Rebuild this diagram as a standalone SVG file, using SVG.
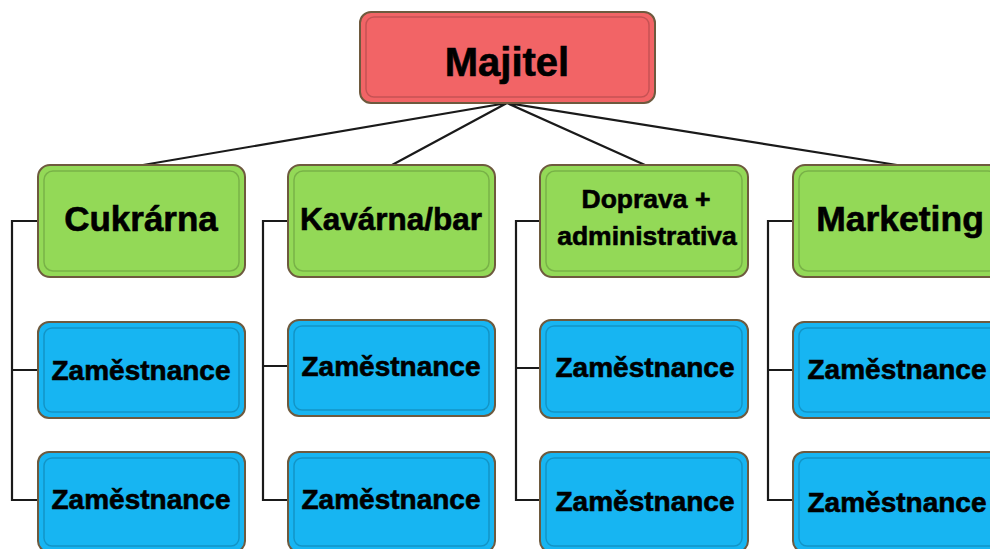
<svg xmlns="http://www.w3.org/2000/svg" width="990" height="549" viewBox="0 0 990 549">
<defs>
<style>
.box{stroke:#6e5a3e;stroke-width:2}
.inner{fill:none;stroke:#000;stroke-opacity:0.18;stroke-width:1.5}
.red{fill:#f26466}
.green{fill:#93d957}
.blue{fill:#17b5f2}
.t{font-family:"Liberation Sans",Arial,sans-serif;font-weight:bold;fill:#000;stroke:#000;stroke-width:0.6;text-anchor:middle}
.ln{fill:none;stroke:#1a1a1a;stroke-width:2.2}
</style>
</defs>
<rect width="990" height="549" fill="#ffffff"/>
<g id="connectors">
<path class="ln" d="M507 103 L143 165 M507 103 L392 165 M507 103 L645 165 M507 103 L897 165"/>
<path class="ln" d="M38 221 H12 V500 H38 M12 370 H38"/>
<path class="ln" d="M288 221 H263 V500 H288 M263 366 H288"/>
<path class="ln" d="M540 221 H516 V500 H540 M516 368 H540"/>
<path class="ln" d="M793 221 H768 V500 H793 M768 370 H793"/>
</g>
<g id="majitel">
<rect class="box red" x="360" y="12" width="295" height="91" rx="11"/>
<rect class="inner" x="366" y="17" width="283" height="80" rx="8"/>
<text class="t" x="507" y="76" font-size="40">Majitel</text>
</g>
<g id="cukrarna">
<rect class="box green" x="38" y="165" width="207" height="112" rx="12"/>
<rect class="inner" x="44" y="171" width="195" height="100" rx="9"/>
<text class="t" x="141" y="231" font-size="35">Cukrárna</text>
</g>
<g id="kavarna">
<rect class="box green" x="288" y="165" width="207" height="112" rx="12"/>
<rect class="inner" x="294" y="171" width="195" height="100" rx="9"/>
<text class="t" x="391" y="230" font-size="31.5">Kavárna/bar</text>
</g>
<g id="doprava">
<rect class="box green" x="540" y="165" width="208" height="112" rx="12"/>
<rect class="inner" x="546" y="171" width="196" height="100" rx="9"/>
<text class="t" x="646" y="208" font-size="26.5">Doprava +</text>
<text class="t" x="647" y="245" font-size="26.5">administrativa</text>
</g>
<g id="marketing">
<rect class="box green" x="793" y="165" width="210" height="112" rx="12"/>
<rect class="inner" x="799" y="171" width="198" height="100" rx="9"/>
<text class="t" x="900" y="231" font-size="35.5">Marketing</text>
</g>
<g id="z1a">
<rect class="box blue" x="38" y="322" width="207" height="96" rx="11"/>
<rect class="inner" x="44" y="328" width="195" height="84" rx="8"/>
<text class="t" x="141" y="380" font-size="28">Zaměstnance</text>
</g>
<g id="z1b">
<rect class="box blue" x="38" y="452" width="207" height="100" rx="11"/>
<rect class="inner" x="44" y="458" width="195" height="88" rx="8"/>
<text class="t" x="141" y="509" font-size="28">Zaměstnance</text>
</g>
<g id="z2a">
<rect class="box blue" x="288" y="320" width="207" height="96" rx="11"/>
<rect class="inner" x="294" y="326" width="195" height="84" rx="8"/>
<text class="t" x="391" y="376" font-size="28">Zaměstnance</text>
</g>
<g id="z2b">
<rect class="box blue" x="288" y="452" width="207" height="100" rx="11"/>
<rect class="inner" x="294" y="458" width="195" height="88" rx="8"/>
<text class="t" x="391" y="509" font-size="28">Zaměstnance</text>
</g>
<g id="z3a">
<rect class="box blue" x="540" y="320" width="208" height="98" rx="11"/>
<rect class="inner" x="546" y="326" width="196" height="86" rx="8"/>
<text class="t" x="645" y="377" font-size="28">Zaměstnance</text>
</g>
<g id="z3b">
<rect class="box blue" x="540" y="452" width="208" height="100" rx="11"/>
<rect class="inner" x="546" y="458" width="196" height="88" rx="8"/>
<text class="t" x="645" y="511" font-size="28">Zaměstnance</text>
</g>
<g id="z4a">
<rect class="box blue" x="793" y="322" width="210" height="96" rx="11"/>
<rect class="inner" x="799" y="328" width="198" height="84" rx="8"/>
<text class="t" x="897" y="379" font-size="28">Zaměstnance</text>
</g>
<g id="z4b">
<rect class="box blue" x="793" y="452" width="210" height="100" rx="11"/>
<rect class="inner" x="799" y="458" width="198" height="88" rx="8"/>
<text class="t" x="897" y="512" font-size="28">Zaměstnance</text>
</g>
</svg>
